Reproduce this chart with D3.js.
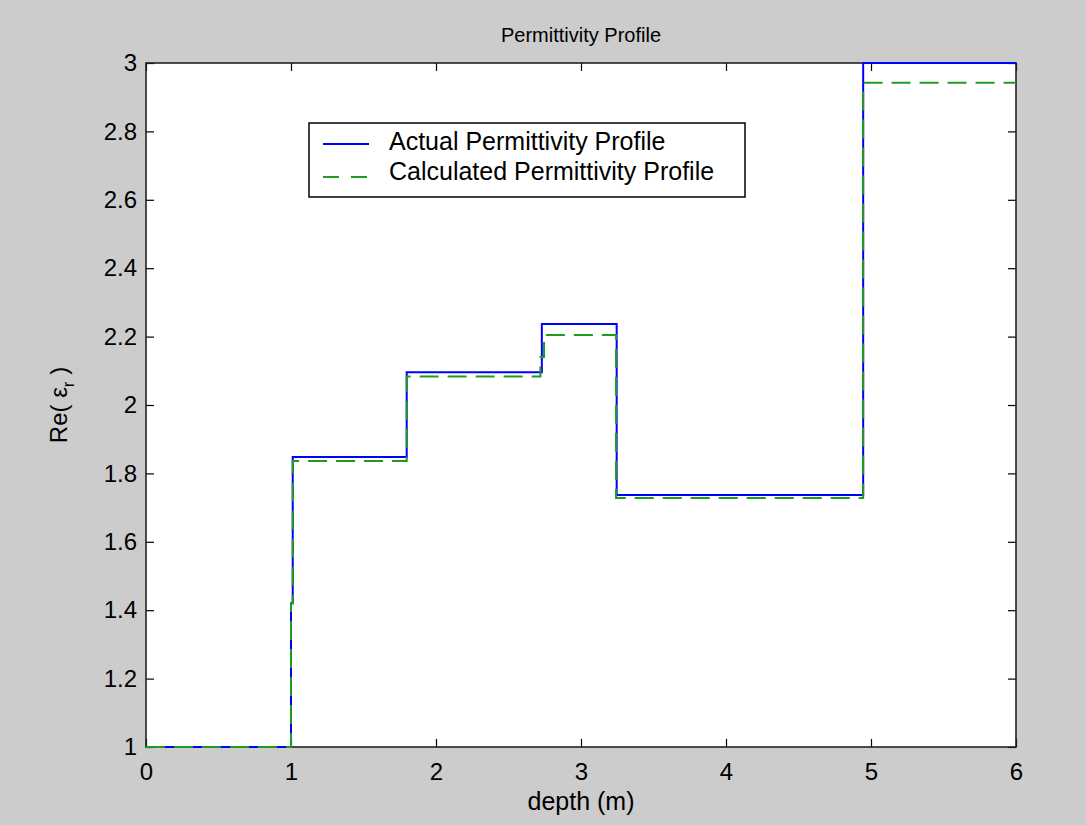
<!DOCTYPE html>
<html>
<head>
<meta charset="utf-8">
<script src="https://cdn.jsdelivr.net/npm/d3@7"></script>
<style>
  html, body { margin: 0; padding: 0; background: #cccccc; }
  svg { display: block; }
  text { font-family: "Liberation Sans", Arial, sans-serif; fill: #000; }
</style>
</head>
<body>
<svg id="chart" width="1086" height="825"></svg>
<script>
// step profiles: value holds from depth[i] up to depth[i+1]
const actualDepth = [0, 1.0, 1.012, 1.798, 2.73, 3.246, 4.946, 6];
const actualValue = [1, 1.42, 1.848, 2.096, 2.237, 1.737, 3.0, 3.0];

const calcDepth = [0, 1.0, 1.012, 1.798, 2.72, 2.745, 3.242, 4.946, 6];
const calcValue = [1, 1.42, 1.836, 2.083, 2.14, 2.205, 1.728, 2.942, 2.942];

const xTicks = [0, 1, 2, 3, 4, 5, 6];
const yTicks = [1, 1.2, 1.4, 1.6, 1.8, 2, 2.2, 2.4, 2.6, 2.8, 3];
const legendLabels = ['Actual Permittivity Profile', 'Calculated Permittivity Profile'];

const svg = d3.select('#chart');
const plotL = 146, plotR = 1016, plotT = 63, plotB = 747;

const x = d3.scaleLinear().domain([0, 6]).range([plotL, plotR]);
const y = d3.scaleLinear().domain([1, 3]).range([plotB, plotT]);

// white plot area
svg.append('rect')
  .attr('x', plotL).attr('y', plotT)
  .attr('width', plotR - plotL).attr('height', plotB - plotT)
  .attr('fill', '#fff');

const fmt = d => d3.format('~g')(d);
const tickLen = 8;

// axes (ticks inside, MATLAB style)
svg.append('g')
  .attr('transform', `translate(0,${plotB})`)
  .call(d3.axisBottom(x).tickValues(xTicks).tickFormat(fmt).tickSizeInner(-tickLen).tickSizeOuter(0).tickPadding(16))
  .call(g => g.select('.domain').remove());
svg.append('g')
  .attr('transform', `translate(0,${plotT})`)
  .call(d3.axisTop(x).tickValues(xTicks).tickFormat('').tickSizeInner(-tickLen).tickSizeOuter(0))
  .call(g => g.select('.domain').remove());
svg.append('g')
  .attr('transform', `translate(${plotL},0)`)
  .call(d3.axisLeft(y).tickValues(yTicks).tickFormat(fmt).tickSizeInner(-tickLen).tickSizeOuter(0).tickPadding(9))
  .call(g => g.select('.domain').remove());
svg.append('g')
  .attr('transform', `translate(${plotR},0)`)
  .call(d3.axisRight(y).tickValues(yTicks).tickFormat('').tickSizeInner(-tickLen).tickSizeOuter(0))
  .call(g => g.select('.domain').remove());

svg.selectAll('.tick line').attr('stroke', '#000').attr('stroke-width', 1.2);
svg.selectAll('.tick text').style('font-size', '24px').attr('fill', '#000');

// box
svg.append('rect')
  .attr('x', plotL).attr('y', plotT)
  .attr('width', plotR - plotL).attr('height', plotB - plotT)
  .attr('fill', 'none').attr('stroke', '#222').attr('stroke-width', 1.6);

const line = d3.line()
  .x(d => x(d[0]))
  .y(d => y(d[1]))
  .curve(d3.curveStepAfter);

svg.append('path')
  .datum(d3.zip(actualDepth, actualValue))
  .attr('fill', 'none')
  .attr('stroke', '#0000ff')
  .attr('stroke-width', 2)
  .attr('d', line);

svg.append('path')
  .datum(d3.zip(calcDepth, calcValue))
  .attr('fill', 'none')
  .attr('stroke', '#229922')
  .attr('stroke-width', 2)
  .attr('stroke-dasharray', '19,9')
  .attr('d', line);

// title and axis labels
svg.append('text')
  .attr('x', (plotL + plotR) / 2).attr('y', 42)
  .attr('text-anchor', 'middle')
  .style('font-size', '20px')
  .text('Permittivity Profile');

svg.append('text')
  .attr('x', (plotL + plotR) / 2).attr('y', 810)
  .attr('text-anchor', 'middle')
  .style('font-size', '25px')
  .text('depth (m)');

const yl = svg.append('text')
  .attr('transform', `translate(67,${(plotT + plotB) / 2}) rotate(-90)`)
  .attr('text-anchor', 'middle')
  .style('font-size', '24px');
yl.append('tspan').text('Re( \u03b5');
yl.append('tspan').attr('dy', 7).style('font-size', '17px').text('r');
yl.append('tspan').attr('dy', -7).text(' )');

// legend
const lg = svg.append('g');
lg.append('rect')
  .attr('x', 309).attr('y', 123)
  .attr('width', 436).attr('height', 74)
  .attr('fill', '#fff').attr('stroke', '#000').attr('stroke-width', 1.5);

const legendStyles = [
  { color: '#0000ff', dash: null, ly: 144, ty: 150 },
  { color: '#229922', dash: '16,12', ly: 177, ty: 180 }
];
legendLabels.forEach((label, i) => {
  const s = legendStyles[i];
  lg.append('line')
    .attr('x1', 323).attr('x2', 369)
    .attr('y1', s.ly).attr('y2', s.ly)
    .attr('stroke', s.color)
    .attr('stroke-width', 2)
    .attr('stroke-dasharray', s.dash);
  lg.append('text')
    .attr('x', 389).attr('y', s.ty)
    .style('font-size', '25px')
    .text(label);
});
</script>
</body>
</html>
